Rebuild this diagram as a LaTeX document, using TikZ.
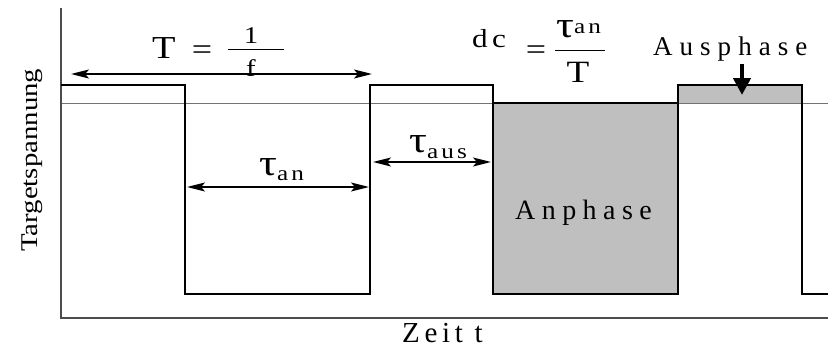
\documentclass[tikz,border=0pt]{standalone}
\usepackage{fontspec}
\setmainfont[FakeStretch=1.2]{Liberation Serif}
\newfontfamily\gesperrt{Liberation Serif}
\usepackage{tikz}
\usetikzlibrary{arrows.meta,positioning}
\newcommand{\sperren}[1]{\addfontfeature{LetterSpace=#1}}
\newcommand{\tauidx}[2]{{\fontsize{37}{37}\selectfont τ}{\fontsize{21}{21}\selectfont\sperren{15}\raisebox{#1}{#2}}}
\tikzset{
  achse/.style={
    draw=black!70,
    line width=1.5pt
  },
  signal/.style={
    draw=black,
    line width=2.2pt,
    line join=miter
  },
  referenz/.style={
    draw=black!55,
    line width=1pt
  },
  phase/.style={
    fill=black!25
  },
  schrift/.style={
    inner sep=0pt,
    anchor=base west
  },
  pfeil/.style={
    {Stealth[length=18pt,width=9pt,inset=4pt]}-{Stealth[length=18pt,width=9pt,inset=4pt]},
    line width=1.9pt
  },
  dickpfeil/.style={
    -{Triangle[length=17pt,width=17pt]},
    line width=4.5pt
  }
}
\begin{document}
\begin{tikzpicture}[x=1pt,y=-1pt]
\useasboundingbox (0,0) rectangle (828,348);
% Eckpunkte des Signals
\coordinate (s0) at (61,85);
\coordinate (s1) at (185,85);
\coordinate (s2) at (185,294);
\coordinate (s3) at (370,294);
\coordinate (s4) at (370,85);
\coordinate (s5) at (493,85);
\coordinate (s6) at (493,294);
\coordinate (s7) at (678,294);
\coordinate (s8) at (678,85);
\coordinate (s9) at (802,85);
\coordinate (s10) at (802,294);
\coordinate (s11) at (828,294);
% Phasen
\fill[phase] (493,103) rectangle (678,294);
\fill[phase] (678,85) rectangle (802,103);
\draw[referenz] (61,103) -- (828,103);
% Achsen
\draw[achse] (61,8) -- (61,318) -- (828,318);
\draw[signal] (s0) -- (s1) -- (s2) -- (s3) -- (s4) -- (s5) -- (s6) -- (s7) -- (s8) -- (s9) -- (s10) -- (s11);
\draw[signal,line width=1.6pt] (493,103) -- (678,103);
% Beschriftung
\node[schrift,rotate=90,font=\fontsize{24}{28}\selectfont] (spannung) at (37,252) {Targetspannung};
\node[schrift,font=\gesperrt\fontsize{29}{34}\selectfont\sperren{16}] (zeit) at (402,342) {Zeit t};
\node[schrift,font=\gesperrt\fontsize{28}{33}\selectfont\sperren{23}] (anphase) at (515,219) {Anphase};
\node[schrift,font=\gesperrt\fontsize{27}{32}\selectfont\sperren{26}] (ausphase) at (653,55) {Ausphase};
\node[schrift,font=\fontsize{32}{38}\selectfont] (periode) at (152,58) {T};
\node[schrift,anchor=base,font=\fontsize{30}{36}\selectfont] (gleich1) at (202,59) {=};
\node[schrift,anchor=base,font=\fontsize{24}{28}\selectfont] (eins) at (251,43) {1};
\node[schrift,anchor=base,font=\fontsize{24}{28}\selectfont] (eff) at (251,76) {f};
\draw[line width=0.8pt] (228,49) -- (284,49);
\node[schrift,font=\fontsize{26}{31}\selectfont\sperren{17}] (dc) at (472,47) {dc};
\node[schrift,anchor=base,font=\fontsize{30}{36}\selectfont] (gleich2) at (536,59) {=};
\node[schrift] (tauzaehler) at (556,37) {\tauidx{4pt}{an}};
\node[schrift,anchor=base,font=\fontsize{31}{36}\selectfont] (periode2) at (578,82) {T};
\draw[line width=0.8pt] (555,50) -- (605,50);
\node[schrift] (tauan) at (259,175) {\tauidx{-5pt}{an}};
\node[schrift] (tauaus) at (409,152) {\tauidx{-6pt}{aus}};
% Pfeile
\coordinate (tlinks) at (71,74);
\coordinate (trechts) at (372,74);
\coordinate (anlinks) at (187,187);
\coordinate (anrechts) at (369,187);
\coordinate (auslinks) at (373,162);
\coordinate (ausrechts) at (491,162);
\coordinate (auspfeil) at (742,95);
\draw[pfeil] (tlinks) -- (trechts);
\draw[pfeil] (anlinks) -- (anrechts);
\draw[pfeil] (auslinks) -- (ausrechts);
\draw[dickpfeil,shorten <=3pt] (auspfeil |- ausphase.south) -- (auspfeil);
\end{tikzpicture}
\end{document}
